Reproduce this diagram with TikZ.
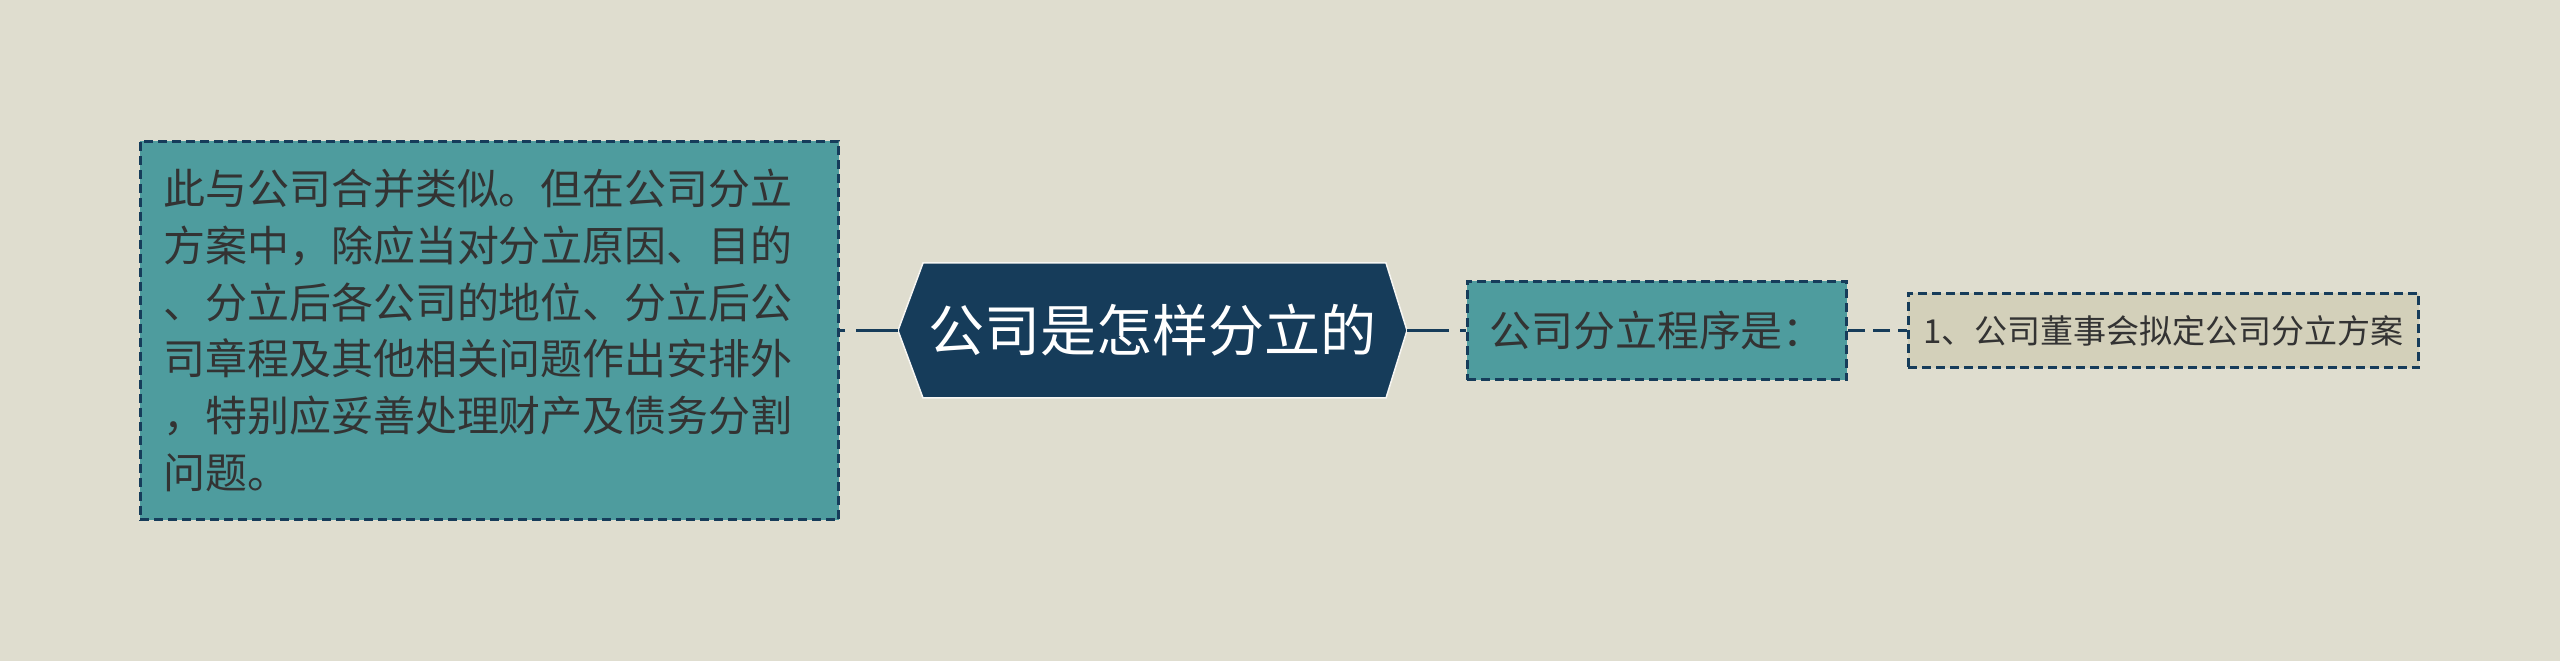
\documentclass[tikz,border=0pt]{standalone}
\usepackage{fontspec}
\setmainfont{Noto Sans CJK SC}
\usepackage{tikz}
\usetikzlibrary{calc,positioning}
\definecolor{bgcol}{HTML}{DFDDCF}
\definecolor{tealbox}{HTML}{4E9C9E}
\definecolor{navy}{HTML}{163C5A}
\definecolor{creambox}{HTML}{D3D0BA}
\definecolor{txt}{HTML}{333333}
\tikzset{
  box/.style={draw=navy, line width=0.06cm, dash pattern=on 0.18cm off 0.1cm,
    text=txt, inner sep=0pt},
  link/.style={draw=navy, line width=0.065cm},
}

\begin{document}
\begin{tikzpicture}[x=0.02cm,y=-0.02cm]
	\useasboundingbox[fill=bgcol] (0,0) rectangle (2560,661);
	% main topic (hexagon)
	\coordinate (rootW) at (898,330.5);
	\coordinate (rootE) at (1407,330.5);
	\filldraw[fill=navy, draw=white!75!bgcol, line width=0.03cm] (rootW) -- (923,263) -- (1386,263) -- (rootE) -- (1386,398) -- (923,398) -- cycle;
	\node[text=white, font=\fontsize{31.9}{38}\selectfont, inner sep=0pt] (root) at (1152.5,330.5) {公司是怎样分立的};
	% left note
	\node[box, fill=tealbox, text width=13.06cm, inner xsep=0.46cm, minimum height=7.58cm, align=left,
	  font=\fontsize{23.9}{32.3}\selectfont] (desc) at (489.5,330.5)
	  {此与公司合并类似。但在公司分立\\方案中，除应当对分立原因、目的\\、分立后各公司的地位、分立后公\\司章程及其他相关问题作出安排外\\，特别应妥善处理财产及债务分割\\问题。};
	% right branch
	\node[box, fill=tealbox, minimum width=7.6cm, minimum height=1.98cm,
	  font=\fontsize{23.9}{28}\selectfont] (proc) at (1657,330.5) {公司分立程序是：};
	\node[box, fill=creambox, minimum width=10.22cm, minimum height=1.5cm,
	  font=\fontsize{18.8}{22}\selectfont] (first) at (2163.5,330.5) {1、公司董事会拟定公司分立方案};
	% connectors
	\draw[link, dash pattern=on 0.84cm off 0.22cm] (rootW) -- (desc.east);
	\draw[link, dash pattern=on 0.84cm off 0.22cm] (rootE) -- (proc.west);
	\draw[link, dash pattern=on 0.34cm off 0.16cm] (proc.east) -- (first.west);
\end{tikzpicture}
\end{document}
